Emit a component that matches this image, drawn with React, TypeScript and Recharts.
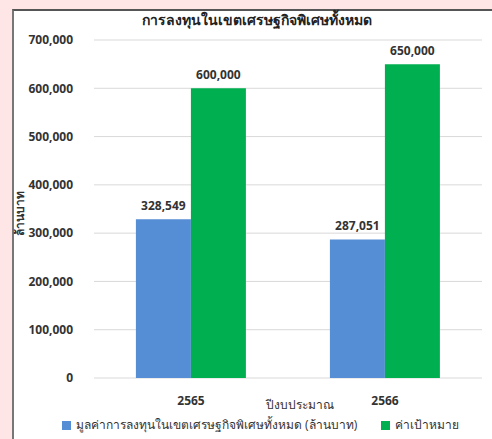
import React from "react";
import { BarChart, Bar, XAxis, YAxis, CartesianGrid, Legend, LabelList } from "recharts";

const categories = ["2565", "2566"];
const investment = [328549, 287051];
const target = [600000, 650000];
const yTicks = [0, 100000, 200000, 300000, 400000, 500000, 600000, 700000];

const seriesInvestName = "มูลค่าการลงทุนในเขตเศรษฐกิจพิเศษทั้งหมด (ล้านบาท)";
const seriesTargetName = "ค่าเป้าหมาย";
const title = "การลงทุนในเขตเศรษฐกิจพิเศษทั้งหมด";
const xTitle = "ปีงบประมาณ";
const yTitle = "ล้านบาท";

const BLUE = "#558ed5";
const GREEN = "#00b050";

const data = categories.map((c, i) => ({ year: c, investment: investment[i], target: target[i] }));

const FONT = "'Open Sans', 'Noto Sans', 'Noto Sans CJK SC', sans-serif";
const fmt = (v: number) => v.toLocaleString("en-US");

const YLabel = () => (
  <text x={19} y={213} transform="rotate(-90 19 213)" textAnchor="middle" dominantBaseline="central"
    fontSize={12} fontWeight={700} fill="#333" fontFamily={FONT}>{yTitle}</text>
);

const legendItems = [
  { name: seriesInvestName, color: BLUE },
  { name: seriesTargetName, color: GREEN },
];

const LegendContent = () => (
  <div style={{ display: "flex", alignItems: "center", paddingLeft: 62, fontSize: 12, color: "#333", fontFamily: FONT, lineHeight: "16px", whiteSpace: "nowrap", width: 492, boxSizing: "border-box" }}>
    {legendItems.map((it, i) => (
      <div key={i} style={{ display: "flex", alignItems: "center", marginRight: 24, flexShrink: 0 }}>
        <span style={{ display: "inline-block", width: 9, height: 9, background: it.color, marginRight: 5 }} />
        <span>{it.name}</span>
      </div>
    ))}
  </div>
);

export default function App() {
  return (
    <div style={{ position: "absolute", left: 0, top: 0, width: 492, height: 439, background: "#fde6e5", overflow: "hidden", fontFamily: FONT }}>
      <div style={{ position: "absolute", left: 12, top: 9, width: 500, height: 450, background: "#fff", borderLeft: "2px solid #777", borderTop: "2px solid #555" }} />
      <div style={{ position: "absolute", left: 0, top: 10, width: 514, textAlign: "center", fontSize: 14, color: "#222", fontWeight: 600, lineHeight: "20px" }}>{title}</div>
      <div style={{ position: "absolute", left: 0, top: 0 }}>
        <BarChart width={492} height={439} data={data} margin={{ top: 40, right: 10, left: 0, bottom: 9 }} barCategoryGap="21.6%" barGap={0}>
          <CartesianGrid vertical={false} stroke="#d9d9d9" />
          <XAxis dataKey="year" axisLine={false} tickLine={false} height={34} tickMargin={12}
            tick={{ fontSize: 12, fontWeight: 700, fill: "#333", fontFamily: FONT }}
            label={{ value: xTitle, position: "insideBottom", offset: 3, dx: 12, fontSize: 12, fill: "#333", fontFamily: FONT }} />
          <YAxis ticks={yTicks} domain={[0, 700000]} width={94} axisLine={false} tickLine={false} tickMargin={15}
            tickFormatter={fmt} tick={{ fontSize: 12, fontWeight: 700, fill: "#333", fontFamily: FONT }}
            label={<YLabel />} />
          <Legend content={<LegendContent />} verticalAlign="bottom" height={27} width={492}
            wrapperStyle={{ left: 0, top: 417, width: 492, height: 18 }} />
          <Bar dataKey="investment" name={seriesInvestName} fill={BLUE} isAnimationActive={false}>
            <LabelList dataKey="investment" position="top" offset={9} formatter={fmt}
              style={{ fontSize: 12, fontWeight: 700, fill: "#333", fontFamily: FONT }} />
          </Bar>
          <Bar dataKey="target" name={seriesTargetName} fill={GREEN} isAnimationActive={false}>
            <LabelList dataKey="target" position="top" offset={9} formatter={fmt}
              style={{ fontSize: 12, fontWeight: 700, fill: "#333", fontFamily: FONT }} />
          </Bar>
        </BarChart>
      </div>
    </div>
  );
}
